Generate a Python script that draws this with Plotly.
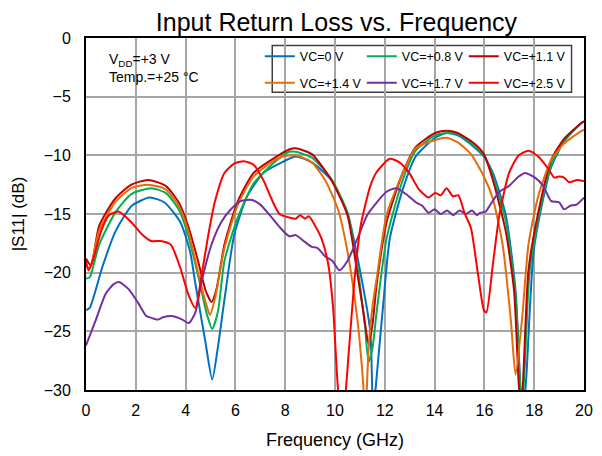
import plotly.graph_objects as go

# ---------------- data ----------------
f_vc0 = [0, 0.15, 0.66, 1.18, 1.84, 2.55, 3.14, 3.79, 4.18, 4.39, 4.78, 5.07, 5.3, 5.56, 5.95, 6.47, 7.12, 7.77, 8.42, 9.07, 9.85, 10.5, 11.03, 11.42, 11.53, 11.68, 11.94, 12.2, 12.72, 13.24, 14.02, 14.48, 14.93, 15.59, 15.98, 16.34, 16.86, 17.25, 17.45, 17.56, 17.68, 17.97, 18.3, 18.68, 19.2, 19.92, 20]
s_vc0 = [-23.2, -23.0, -19.5, -16.5, -14.3, -13.6, -14.0, -15.7, -18.2, -20.9, -25.7, -29.1, -26.3, -22.3, -16.8, -13.5, -11.5, -10.7, -10.1, -10.6, -12.1, -14.9, -20.1, -25.1, -32.0, -28.7, -22.6, -17.1, -12.9, -10.1, -8.5, -8.1, -8.3, -9.3, -10.1, -11.5, -15.1, -21.5, -29.8, -32.0, -29.0, -18.3, -14.3, -11.0, -8.8, -7.2, -7.1]

f_vc08 = [0, 0.15, 0.53, 1.17, 1.82, 2.62, 3.2, 3.72, 4.1, 4.52, 4.85, 5.07, 5.3, 5.56, 6.08, 6.73, 7.51, 8.16, 8.42, 9.07, 9.85, 10.5, 10.9, 11.2, 11.35, 11.5, 11.68, 12.07, 12.72, 13.24, 14.02, 14.48, 14.93, 15.59, 15.98, 16.34, 16.86, 17.25, 17.4, 17.5, 17.62, 17.82, 18.3, 18.68, 19.2, 19.92, 20]
s_vc08 = [-20.5, -20.4, -17.6, -14.9, -13.3, -12.8, -13.2, -14.6, -16.8, -20.4, -23.5, -24.8, -23.3, -19.0, -15.4, -12.4, -10.7, -9.7, -9.7, -10.2, -12.0, -14.9, -19.5, -24.5, -27.6, -26.5, -23.2, -17.1, -12.1, -9.6, -8.3, -8.1, -8.2, -9.2, -10.0, -11.8, -15.6, -22.0, -28.0, -32.0, -28.0, -19.8, -14.0, -10.8, -8.7, -7.2, -7.1]

f_vc11 = [0, 0.2, 0.53, 1.17, 1.82, 2.5, 3.2, 3.72, 4.1, 4.5, 4.8, 5.04, 5.25, 5.56, 6.08, 6.73, 7.51, 8.16, 8.42, 9.07, 9.85, 10.5, 10.9, 11.15, 11.35, 11.5, 11.68, 12.07, 12.72, 13.24, 14.02, 14.48, 14.93, 15.59, 15.98, 16.34, 16.86, 17.19, 17.38, 17.48, 17.58, 17.77, 18.16, 18.68, 19.2, 19.92, 20]
s_vc11 = [-18.8, -19.4, -16.0, -13.7, -12.5, -12.1, -12.6, -14.0, -16.0, -19.0, -21.5, -22.5, -21.3, -17.6, -14.0, -11.5, -10.3, -9.5, -9.4, -9.9, -12.1, -15.1, -20.1, -23.5, -26.1, -24.5, -20.9, -15.7, -11.5, -9.3, -8.1, -7.9, -8.1, -9.0, -9.9, -12.1, -16.5, -21.5, -29.5, -32.0, -28.0, -19.8, -14.9, -10.4, -8.6, -7.2, -7.1]

f_vc14 = [0, 0.15, 0.53, 1.17, 1.82, 2.5, 3.2, 3.72, 4.1, 4.5, 4.8, 4.98, 5.2, 5.56, 6.08, 6.73, 7.51, 7.9, 8.42, 9.07, 9.6, 10.12, 10.5, 10.9, 11.1, 11.22, 11.35, 11.5, 11.68, 12.07, 12.72, 13.24, 14.02, 14.48, 14.93, 15.46, 15.98, 16.34, 16.73, 17.06, 17.25, 17.51, 17.77, 18.16, 18.68, 19.2, 19.92, 20]
s_vc14 = [-19.4, -19.6, -16.4, -14.0, -12.8, -12.5, -12.9, -14.3, -16.4, -20.0, -22.5, -23.6, -22.0, -17.9, -14.3, -11.8, -10.5, -10.1, -10.0, -10.6, -12.1, -14.6, -18.2, -24.0, -28.5, -32.0, -26.5, -23.0, -20.4, -15.1, -11.5, -9.4, -8.7, -8.5, -8.9, -9.9, -11.8, -13.7, -17.6, -24.0, -28.7, -24.0, -17.6, -13.5, -10.4, -9.0, -7.9, -7.8]

f_vc17 = [0, 0.4, 0.79, 1.1, 1.32, 1.71, 2.1, 2.42, 2.7, 2.88, 3.1, 3.4, 3.65, 3.87, 4.13, 4.39, 4.65, 5.04, 5.43, 5.82, 6.21, 6.67, 7.0, 7.38, 7.77, 8.16, 8.42, 8.8, 9.07, 9.3, 9.6, 9.9, 10.18, 10.5, 10.9, 11.29, 11.68, 12.07, 12.46, 12.85, 13.24, 13.5, 13.76, 14.0, 14.25, 14.5, 14.75, 15.0, 15.25, 15.5, 15.7, 15.82, 16.05, 16.21, 16.6, 16.99, 17.38, 17.64, 18.03, 18.36, 18.68, 19.0, 19.2, 19.45, 19.7, 20]
s_vc17 = [-26.2, -24.0, -21.8, -21.0, -20.8, -21.4, -22.6, -23.7, -23.9, -24.0, -23.8, -23.7, -23.8, -24.0, -24.3, -23.4, -20.7, -17.6, -15.7, -14.6, -13.9, -13.8, -14.2, -15.1, -16.1, -16.9, -16.8, -17.4, -17.8, -17.9, -18.6, -19.0, -19.8, -19.0, -17.1, -15.1, -14.0, -13.1, -12.8, -13.3, -14.0, -14.3, -14.9, -14.6, -15.0, -14.7, -15.1, -14.7, -15.0, -14.7, -15.1, -14.9, -14.8, -14.3, -13.1, -12.6, -11.8, -11.5, -11.9, -12.6, -13.9, -14.0, -14.6, -14.3, -14.2, -13.6]

f_vc25 = [0, 0.1, 0.3, 0.6, 0.92, 1.32, 1.82, 2.23, 2.62, 3.0, 3.4, 3.79, 4.1, 4.39, 4.65, 4.91, 5.17, 5.56, 5.95, 6.34, 6.73, 7.12, 7.51, 7.77, 8.16, 8.42, 8.6, 8.8, 8.95, 9.2, 9.46, 9.73, 9.92, 10.12, 10.3, 10.44, 10.77, 11.03, 11.42, 11.68, 12.2, 12.59, 12.98, 13.37, 13.76, 14.02, 14.25, 14.48, 14.74, 14.95, 15.2, 15.46, 15.72, 15.98, 16.08, 16.34, 16.6, 16.99, 17.38, 17.77, 18.16, 18.55, 18.81, 19.0, 19.2, 19.4, 19.73, 20]
s_vc25 = [-19.0, -19.8, -18.8, -16.5, -15.1, -14.8, -15.7, -16.7, -17.3, -17.3, -17.6, -19.6, -21.8, -23.0, -20.1, -16.8, -14.0, -11.5, -10.7, -10.5, -10.8, -12.1, -14.0, -15.0, -15.3, -15.4, -15.1, -15.4, -15.2, -16.0, -17.1, -19.3, -22.9, -29.9, -33.0, -29.9, -20.9, -16.0, -12.6, -11.4, -10.3, -10.6, -11.5, -12.9, -13.6, -13.2, -13.4, -12.8, -13.5, -13.4, -14.9, -16.2, -19.8, -23.2, -23.4, -19.3, -15.1, -11.5, -10.0, -9.6, -10.1, -11.1, -11.9, -11.8, -11.9, -12.3, -12.1, -12.2]

series = [
    ("VC=0 V", f_vc0, s_vc0, "#0070C0", "legend"),
    ("VC=+0.8 V", f_vc08, s_vc08, "#00B050", "legend"),
    ("VC=+1.1 V", f_vc11, s_vc11, "#C00000", "legend"),
    ("VC=+1.4 V", f_vc14, s_vc14, "#E46C0A", "legend2"),
    ("VC=+1.7 V", f_vc17, s_vc17, "#7030A0", "legend2"),
    ("VC=+2.5 V", f_vc25, s_vc25, "#FF0000", "legend2"),
]

FONT = "Arial, Liberation Sans, sans-serif"

fig = go.Figure()
for name, fx, sy, col, leg in series:
    fig.add_trace(go.Scatter(
        x=fx, y=sy, name=name, mode="lines",
        line=dict(color=col, width=2, shape="spline", smoothing=0.6),
        legend=leg,
    ))

leg_common = dict(
    orientation="h", xref="paper", yref="paper", xanchor="left", yanchor="middle",
    x=0.349, bgcolor="rgba(0,0,0,0)", borderwidth=0,
    font=dict(family=FONT, size=12.5, color="black"),
    entrywidth=57, itemwidth=30, tracegroupgap=0,
)

fig.update_layout(
    width=594, height=448,
    margin=dict(l=73, r=9, t=30, b=57),
    paper_bgcolor="white", plot_bgcolor="white",
    font=dict(family=FONT, color="black"),
    title=dict(text="Input Return Loss vs. Frequency", x=0.553, xanchor="center",
               y=0.968, yanchor="middle", font=dict(family=FONT, size=25, color="black")),
    legend=dict(leg_common, y=0.947),
    legend2=dict(leg_common, y=0.872),
    showlegend=True,
    xaxis=dict(range=[0, 20], dtick=2, tick0=0, showgrid=True, gridcolor="#a6a6a6", gridwidth=1.5,
               showline=True, linecolor="black", linewidth=2, mirror=True, zeroline=False,
               ticks="", ticklabelstandoff=5, tickfont=dict(family=FONT, size=16, color="black"),
               title=dict(text="Frequency (GHz)", font=dict(family=FONT, size=18, color="black"))),
    yaxis=dict(range=[-30, 0], dtick=5, showgrid=True, gridcolor="#a6a6a6", gridwidth=1.5,
               showline=True, linecolor="black", linewidth=2, mirror=True, zeroline=False,
               ticks="", ticklabelstandoff=10, tickfont=dict(family=FONT, size=16, color="black"),
               title=dict(text="|S11| (dB)", font=dict(family=FONT, size=17, color="black"))),
    shapes=[dict(type="rect", xref="paper", yref="paper", x0=0.374, x1=0.975, y0=0.846, y1=0.9785,
                 line=dict(color="#404040", width=1.5), fillcolor="white", layer="below")],
    annotations=[dict(text="V<sub>DD</sub>=+3 V<br>Temp.=+25 °C", xref="paper", yref="paper",
                      x=0.043, y=0.968, xanchor="left", yanchor="top", align="left", showarrow=False,
                      font=dict(family=FONT, size=14, color="black"))],
)

fig.write_html("out.html")
